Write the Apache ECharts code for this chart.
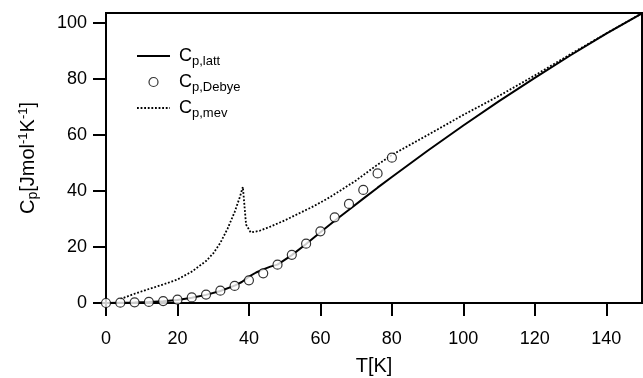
<!DOCTYPE html>
<html>
<head>
<meta charset="utf-8">
<script src="https://cdn.jsdelivr.net/npm/echarts@6/dist/echarts.min.js"></script>
<style>
  html, body { margin: 0; padding: 0; background: #fff; }
  #chart { width: 643px; height: 378px; }
</style>
</head>
<body>
<div id="chart"></div>
<script>
// tick labels
const xTicks = [0, 20, 40, 60, 80, 100, 120, 140];
const yTicks = [0, 20, 40, 60, 80, 100];

// C_p,latt (solid line): temperature / value
const lattT = [0, 4, 8, 12, 16, 20, 24, 28, 32, 36, 38, 40, 42, 44, 46, 48, 52, 56, 60, 64, 68, 72, 76, 80, 90, 100, 110, 120, 130, 140, 150];
const lattC = [0, 0.1, 0.2, 0.35, 0.6, 1.1, 1.9, 2.9, 4.3, 6.2, 7.5, 9.4, 10.9, 12.0, 13.0, 13.7, 17.1, 21.1, 25.3, 29.4, 33.3, 37.3, 41.2, 45.0, 54.4, 63.4, 72.1, 80.4, 88.5, 96.2, 103.5];

// C_p,Debye (open circles)
const debyeT = [0, 4, 8, 12, 16, 20, 24, 28, 32, 36, 40, 44, 48, 52, 56, 60, 64, 68, 72, 76, 80];
const debyeC = [0, 0.1, 0.25, 0.4, 0.7, 1.2, 2.0, 3.0, 4.4, 6.1, 8.1, 10.6, 13.7, 17.2, 21.2, 25.6, 30.6, 35.4, 40.4, 46.3, 51.9];

// C_p,mev (dotted line)
const mevT = [4, 8, 12, 16, 20, 24, 28, 30, 32, 34, 36, 37.5, 38.3, 39.2, 40.5, 43, 46, 50, 54, 58, 62, 66, 70, 75, 80, 90, 100, 110, 120, 130, 140, 150];
const mevC = [1.4, 3.3, 5.0, 6.6, 8.4, 11.2, 15.0, 17.7, 21.5, 26.5, 32.5, 38.0, 41.5, 28.0, 25.2, 25.8, 27.3, 29.5, 32.0, 34.5, 37.3, 40.5, 43.8, 48.5, 52.9, 60.0, 67.2, 74.0, 81.3, 88.9, 96.3, 103.5];

const pairs = (xs, ys) => xs.map((x, i) => [x, ys[i]]);

const legendNames = {
    'Cp,latt': '{c|C}{s|p,latt}',
    'Cp,Debye': '{c|C}{s|p,Debye}',
    'Cp,mev': '{c|C}{s|p,mev}'
};

const chart = echarts.init(document.getElementById('chart'));

const option = {
    animation: false,
    backgroundColor: '#fff',
    textStyle: { fontFamily: 'Liberation Sans, Arial, sans-serif', color: '#000' },
    grid: {
        left: 106, right: 1, top: 13, bottom: 75,
        outerBoundsMode: 'none',
        containLabel: false,
        show: true, borderColor: '#000', borderWidth: 2
    },
    legend: {
        orient: 'vertical',
        left: 136, top: 47,
        padding: 0,
        itemWidth: 33, itemHeight: 9, itemGap: 5.5,
        data: [
            { name: 'Cp,latt', itemStyle: { opacity: 0 } },
            { name: 'Cp,Debye', itemStyle: { color: '#fff', borderColor: '#000', borderWidth: 1.2 } },
            { name: 'Cp,mev', itemStyle: { opacity: 0 } }
        ],
        formatter: name => legendNames[name],
        textStyle: {
            padding: [0, 0, 0, 4],
            rich: {
                c: { fontSize: 18, color: '#000' },
                s: { fontSize: 13, color: '#000', padding: [10, 0, 0, 0] }
            }
        }
    },
    xAxis: {
        type: 'value',
        min: 0, max: 150, interval: 20,
        name: 'T[K]',
        nameLocation: 'middle',
        nameGap: 53,
        nameTextStyle: { fontSize: 20, color: '#000' },
        axisLine: { onZero: false, lineStyle: { color: '#000', width: 2 } },
        axisTick: { length: 13, lineStyle: { color: '#000', width: 2 }, customValues: xTicks },
        axisLabel: { fontSize: 18, color: '#000', margin: 27, customValues: xTicks },
        splitLine: { show: false }
    },
    yAxis: {
        type: 'value',
        min: 0, max: 103.6, interval: 20,
        name: '{a|C}{s|p}{a|[Jmol}{u|-1}{a|K}{u|-1}{a|]}',
        nameLocation: 'middle',
        nameRotate: 90,
        nameGap: 66,
        nameTextStyle: {
            rich: {
                a: { fontSize: 20, color: '#000' },
                s: { fontSize: 14, color: '#000', padding: [10, 0, 0, 0] },
                u: { fontSize: 13, color: '#000', padding: [0, 0, 10, 0] }
            }
        },
        axisLine: { onZero: false, lineStyle: { color: '#000', width: 2 } },
        axisTick: { length: 13, lineStyle: { color: '#000', width: 2 }, customValues: yTicks },
        axisLabel: { fontSize: 18, color: '#000', margin: 19, customValues: yTicks },
        splitLine: { show: false }
    },
    series: [
        {
            name: 'Cp,latt',
            type: 'line',
            data: pairs(lattT, lattC),
            symbol: 'none',
            lineStyle: { color: '#000', width: 2 },
            itemStyle: { color: '#000' },
            z: 2
        },
        {
            name: 'Cp,mev',
            type: 'line',
            data: pairs(mevT, mevC),
            symbol: 'none',
            lineStyle: { color: '#000', width: 1.8, type: [1.8, 1.8] },
            itemStyle: { color: '#000' },
            z: 2
        },
        {
            name: 'Cp,Debye',
            type: 'scatter',
            data: pairs(debyeT, debyeC),
            symbol: 'circle',
            symbolSize: 9,
            itemStyle: { color: '#fff', borderColor: '#000', borderWidth: 1.2 },
            z: 3
        }
    ]
};

chart.setOption(option);
</script>
</body>
</html>
